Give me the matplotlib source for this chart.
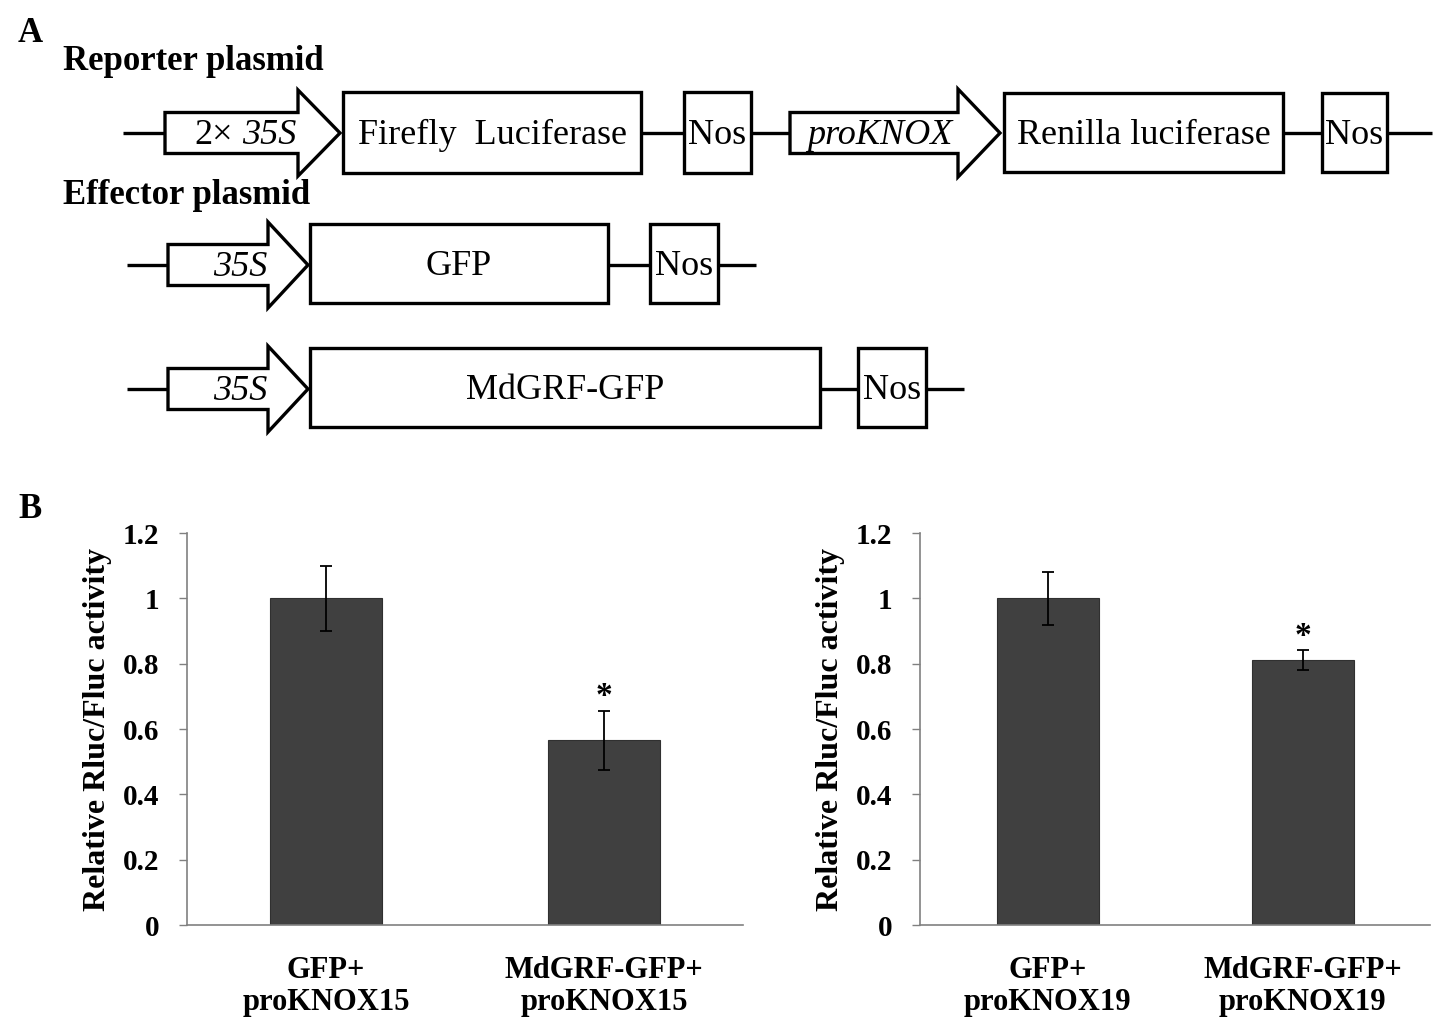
import matplotlib
matplotlib.use("Agg")
import matplotlib.pyplot as plt
from matplotlib.patches import Polygon, Rectangle

plt.rcParams['font.family'] = ['Liberation Serif', 'DejaVu Serif']

# bar data
groups_15 = ["GFP+\nproKNOX15", "MdGRF-GFP+\nproKNOX15"]
values_15 = [1.0, 0.566]
errors_15 = [0.10, 0.09]
signif_15 = [False, True]

groups_19 = ["GFP+\nproKNOX19", "MdGRF-GFP+\nproKNOX19"]
values_19 = [1.0, 0.811]
errors_19 = [0.082, 0.031]
signif_19 = [False, True]

y_ticks = [0, 0.2, 0.4, 0.6, 0.8, 1.0, 1.2]
y_tick_labels = ["0", "0.2", "0.4", "0.6", "0.8", "1", "1.2"]
ylabel = "Relative Rluc/Fluc activity"

W, H = 1447, 1032
fig = plt.figure(figsize=(W / 100, H / 100), dpi=100)

# ---------- panel A: construct diagram (pixel coordinates) ----------
ax_d = fig.add_axes([0, 0, 1, 1])
ax_d.set_xlim(0, W)
ax_d.set_ylim(H, 0)
ax_d.axis('off')
LW = 2.4


def hline(x0, x1, y):
    ax_d.plot([x0, x1], [y, y], color='black', lw=LW, solid_capstyle='butt')


def box(x0, x1, y0, y1, label, size=26):
    ax_d.add_patch(Rectangle((x0, y0), x1 - x0, y1 - y0, fill=False,
                             ec='black', lw=LW))
    ax_d.text((x0 + x1) / 2, (y0 + y1) / 2 + 3, label, ha='center',
              va='center', fontsize=size)


def arrow(x0, xh, xt, yc, body_h, head_h):
    pts = [(x0, yc - body_h / 2), (xh, yc - body_h / 2), (xh, yc - head_h / 2),
           (xt, yc), (xh, yc + head_h / 2), (xh, yc + body_h / 2),
           (x0, yc + body_h / 2)]
    ax_d.add_patch(Polygon(pts, closed=True, fill=False, ec='black', lw=LW,
                           joinstyle='miter'))


ax_d.text(18, 33, "A", fontsize=25, fontweight='bold', va='center')
ax_d.text(63, 62, "Reporter plasmid", fontsize=25, fontweight='bold', va='center')
ax_d.text(63, 196, "Effector plasmid", fontsize=25, fontweight='bold', va='center')
ax_d.text(18, 510, "B", fontsize=25, fontweight='bold', va='center')

# reporter row
y1 = 133
hline(123, 165, y1)
arrow(165, 298, 340, y1, 41, 86)
ax_d.text(233, y1 + 3, "2\u00d7", fontsize=26, ha='right', va='center')
ax_d.text(242, y1 + 3, "35S", fontsize=26, style='italic', ha='left', va='center')
box(343, 641, 92, 173, "Firefly  Luciferase")
hline(641, 684, y1)
box(684, 751, 92, 173, "Nos")
hline(751, 790, y1)
arrow(790, 958, 1000, y1, 41, 88)
ax_d.text(880, y1 + 3, "proKNOX", fontsize=26, style='italic', ha='center', va='center')
box(1004, 1283, 93, 172, "Renilla luciferase")
hline(1283, 1322, y1)
box(1322, 1387, 93, 172, "Nos")
hline(1387, 1432, y1)

# effector rows
for yc, x_end, name, nos_x in [(265, 608, "GFP", 650), (389, 820, "MdGRF-GFP", 858)]:
    hline(127, 168, yc)
    arrow(168, 268, 308, yc, 41, 86)
    ax_d.text(240, yc + 3, "35S", fontsize=26, style='italic', ha='center', va='center')
    box(310, x_end, yc - 41, yc + 38, name)
    hline(x_end, nos_x, yc)
    box(nos_x, nos_x + 68, yc - 41, yc + 38, "Nos")
    hline(nos_x + 68, nos_x + 106, yc)

# ---------- panel B: bar charts ----------
def bar_panel(rect, labels, values, errors, signif):
    ax = fig.add_axes(rect)
    x = range(len(values))
    ax.bar(x, values, width=0.4, color='#404040', edgecolor='#303030', lw=0.8)
    ax.errorbar(x, values, yerr=errors, fmt='none', ecolor='black',
                elinewidth=1.3, capsize=4, capthick=1.3)
    for xi, v, e, s in zip(x, values, errors, signif):
        if s:
            ax.text(xi, v + e + 0.042, "*", ha='center', va='center',
                    fontsize=24, fontweight='bold')
    ax.set_xlim(-0.5, 1.5)
    ax.set_ylim(0, 1.2)
    ax.set_yticks(y_ticks)
    ax.set_yticklabels(y_tick_labels, fontsize=21, fontweight='bold')
    ax.set_xticks(list(x))
    ax.set_xticklabels(labels, fontsize=22, fontweight='bold', linespacing=1.15)
    ax.tick_params(axis='x', length=0, pad=22)
    ax.tick_params(axis='y', length=6, width=1, color='#808080', pad=14)
    for side in ['top', 'right']:
        ax.spines[side].set_visible(False)
    for side in ['left', 'bottom']:
        ax.spines[side].set_color('#808080')
        ax.spines[side].set_linewidth(1.2)
    ax.set_ylabel(ylabel, fontsize=23, fontweight='bold', labelpad=8)
    ax.patch.set_alpha(0)
    return ax


bar_panel([187 / W, 1 - 925 / H, 556 / W, 392 / H], groups_15, values_15, errors_15, signif_15)
bar_panel([920 / W, 1 - 925 / H, 510 / W, 392 / H], groups_19, values_19, errors_19, signif_19)

fig.savefig("out.png", dpi=100)
